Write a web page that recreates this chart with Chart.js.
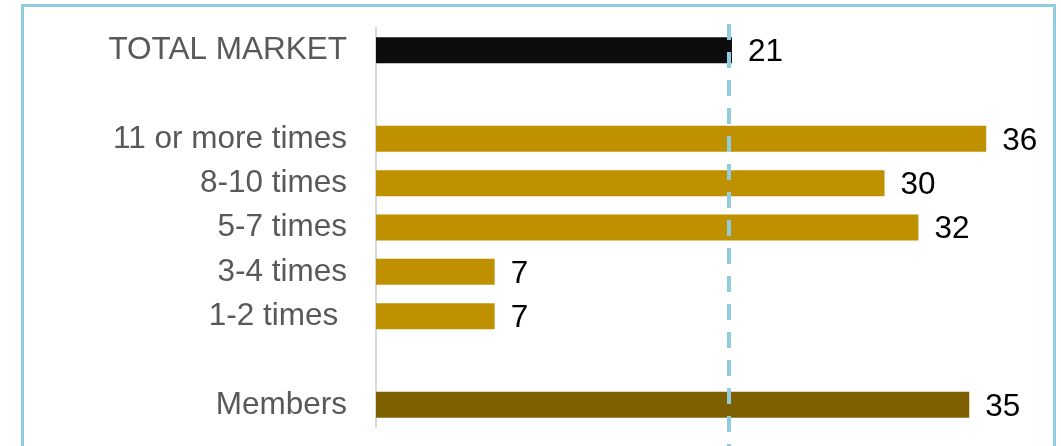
<!DOCTYPE html>
<html>
<head>
<meta charset="utf-8">
<title>Frequency chart</title>
<script src="https://cdn.jsdelivr.net/npm/chart.js@4/dist/chart.umd.min.js"></script>
<style>
    body { margin: 0; background: #ffffff; overflow: hidden; }
    #wrap { position: relative; width: 1061px; height: 446px; }
    #frame {
        position: absolute; left: 21px; top: 4px; width: 1029px; height: 460px;
        border: 3px solid #92CDDF; border-bottom: none;
    }
    #chart { position: absolute; left: 0; top: 0; }
</style>
</head>
<body>
<div id="wrap">
    <div id="frame"></div>
    <canvas id="chart" width="1061" height="446"></canvas>
</div>
<script>
// Rows, top to bottom; empty labels are spacer rows
const categories = ['TOTAL MARKET', '', '11 or more times', '8-10 times', '5-7 times', '3-4 times', '1-2 times ', '', 'Members'];
const values = [21, null, 36, 30, 32, 7, 7, null, 35];
const barColors = ['#0D0D0D', null, '#BF9000', '#BF9000', '#BF9000', '#BF9000', '#BF9000', null, '#7F6000'];
const referenceValue = 20.8;
const axisMax = 40;

const FONT = "'Liberation Sans', Arial, sans-serif";

// Value text just past the end of each bar
const valueLabels = {
    id: 'valueLabels',
    afterDatasetsDraw(chart) {
        const ctx = chart.ctx;
        const meta = chart.getDatasetMeta(0);
        ctx.save();
        ctx.font = `31.5px ${FONT}`;
        ctx.fillStyle = '#000000';
        ctx.textAlign = 'left';
        ctx.textBaseline = 'middle';
        meta.data.forEach((bar, i) => {
            if (values[i] == null) return;
            ctx.fillText(String(values[i]), bar.x + 16, bar.y + 2);
        });
        ctx.restore();
    }
};

// Dashed vertical reference line
const referenceLine = {
    id: 'referenceLine',
    afterDatasetsDraw(chart) {
        const ctx = chart.ctx;
        const x = Math.round(chart.scales.x.getPixelForValue(referenceValue));
        ctx.save();
        ctx.strokeStyle = '#92CDDF';
        ctx.lineWidth = 4;
        ctx.setLineDash([16, 12]);
        ctx.beginPath();
        ctx.moveTo(x, 24);
        ctx.lineTo(x, chart.height);
        ctx.stroke();
        ctx.restore();
    }
};

new Chart(document.getElementById('chart'), {
    type: 'bar',
    data: {
        labels: categories,
        datasets: [{
            data: values,
            backgroundColor: barColors,
            barPercentage: 1,
            categoryPercentage: 0.587
        }]
    },
    options: {
        indexAxis: 'y',
        responsive: false,
        animation: false,
        layout: { padding: { top: 28, bottom: 19, right: 7, left: 0 } },
        plugins: {
            legend: { display: false },
            tooltip: { enabled: false }
        },
        scales: {
            x: {
                display: false,
                min: 0,
                max: axisMax
            },
            y: {
                grid: { display: false, drawTicks: false },
                border: { display: true, color: '#D9D9D9', width: 2 },
                ticks: {
                    autoSkip: false,
                    padding: 29,
                    color: '#595959',
                    font: { family: FONT, size: 31.5 }
                },
                afterFit(scale) {
                    scale.width = 376;
                    // keep the plot area fixed regardless of label height
                    scale.paddingTop = 0;
                    scale.paddingBottom = 0;
                }
            }
        }
    },
    plugins: [referenceLine, valueLabels]
});
</script>
</body>
</html>
